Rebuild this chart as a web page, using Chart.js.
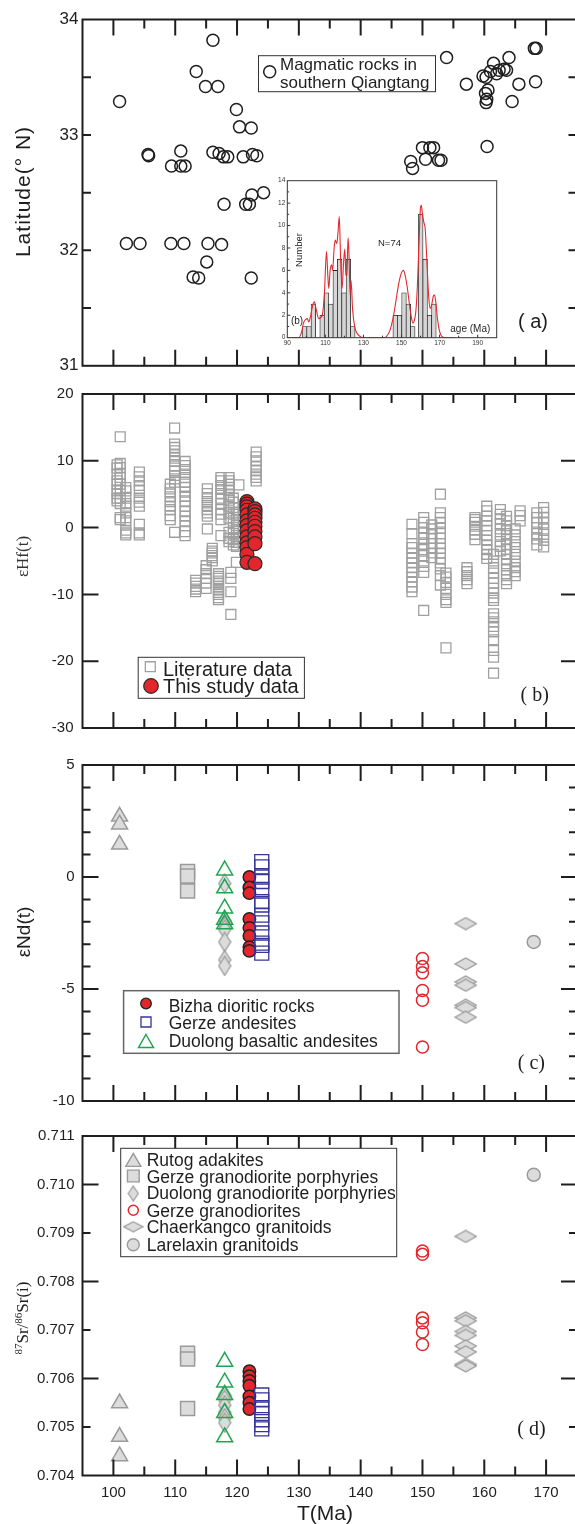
<!DOCTYPE html>
<html><head><meta charset="utf-8">
<script src="https://cdn.jsdelivr.net/npm/chart.js@4.4.1/dist/chart.umd.min.js"></script>
<style>
html,body{margin:0;padding:0;background:#fff;}
body{width:575px;height:1524px;overflow:hidden;position:relative;}
canvas{position:absolute;left:0;}
</style></head><body>
<canvas id="pa" width="600" height="380" style="top:0px"></canvas>
<canvas id="inset" width="245" height="185" style="top:170px;left:260px"></canvas>
<canvas id="pb" width="600" height="370" style="top:376px"></canvas>
<canvas id="pc" width="600" height="370" style="top:748px"></canvas>
<canvas id="pd" width="600" height="405" style="top:1119px"></canvas>
<script>
// ---------------- DATA ----------------
const ageTickLabels = [100,110,120,130,140,150,160,170];
const ageMajorTicks = [100,110,120,130,140,150,160,170];
const ageMinorTicks = [105,115,125,135,145,155,165];

// (a) latitude of magmatic rocks
const latAges = [101.0,116.1,113.4,114.9,116.9,119.9,120.4,122.3,105.6,105.7,110.9,109.4,110.9,111.6,116.1,117.1,117.8,118.5,121.0,122.5,123.2,124.3,122.4,117.9,121.4,122.0,102.1,104.3,109.3,111.4,115.3,117.5,115.1,112.9,113.8,122.3,
  153.9,157.1,159.8,160.3,161.5,162.4,163.2,163.6,164.0,165.6,168.3,168.1,168.4,160.6,160.2,160.3,160.4,164.5,161.0,162.0,160.45,150.0,151.2,151.8,148.1,148.4,150.5,152.6,153.0];
const latValues = [33.29,33.82,33.55,33.42,33.42,33.22,33.07,33.06,32.83,32.82,32.86,32.73,32.73,32.73,32.85,32.84,32.81,32.81,32.81,32.83,32.82,32.50,32.48,32.40,32.40,32.40,32.06,32.06,32.06,32.06,32.06,32.05,31.90,31.77,31.76,31.76,
  33.67,33.44,33.51,33.50,33.62,33.56,33.57,33.56,33.67,33.44,33.46,33.75,33.75,33.39,33.36,33.28,33.31,33.29,33.55,33.53,32.90,32.89,32.89,32.89,32.77,32.71,32.79,32.78,32.78];
const latTickLabels = [34,33,32,31];
const latTicks = [33.5,33,32.5,32,31.5];

// inset histogram of ages
const histAges = [99.2,101.4,103.7,108.3,110.6,112.9,115.2,117.5,119.8,122.1,124.4,146.7,149.0,151.3,153.6,155.9,160.1,162.4,164.7,167.0];
const histCounts = [1,1,3,2,4,3,6,7,4,7,1,2,2,4,3,1,11,7,2,3];
const kdeAges = [90,96,97.5,98.5,99.5,100.5,101.3,102.3,103.5,104.2,105.2,106.5,107.5,108.5,109.5,110.6,111.3,111.8,112.5,113.3,113.8,114.6,115.2,116.0,116.6,117.3,118.0,118.8,119.5,120.2,120.8,121.3,121.9,122.4,123.0,123.5,124.3,125.5,127,129,131,141,142.5,144,145.5,147,148.5,150,151,152,153,154,155,156,156.8,157.5,158.3,159.2,159.9,160.4,161,161.7,162.4,163,163.7,164.3,165,165.8,166.7,167.3,168,168.8,169.8,171,173,178];
const kdeValues = [0,0,0.5,1.3,1.6,1.7,1.4,2.0,3.0,3.2,2.5,1.7,1.8,2.1,4.0,7.7,5.5,4.4,6.0,6.5,6.0,8.0,8.7,8.4,9.3,10.8,7.0,4.4,6.5,7.9,5.6,5.5,8.9,7.5,3.8,5.1,2.5,0.9,0.3,0.05,0,0,0.2,0.7,1.7,3.2,4.8,5.8,6.0,5.5,4.5,3.2,2.0,1.3,1.6,2.3,4.5,8.5,11.5,11.8,11.0,10.3,9.8,8.0,5.5,3.6,2.6,2.9,3.7,3.8,3.2,1.8,0.7,0.15,0,0];
const histYLabels = [0,2,4,6,8,10,12,14];
const histXLabels = [90,110,130,150,170,190];

// (b) zircon eHf(t)
const hfLitAges = [100.6,101.1,102.0,104.2,109.2,109.9,111.6,113.3,115.0,115.2,116.0,117.0,117.4,118.7,119.0,119.4,119.9,120.3,123.1,
  148.3,150.2,151.5,152.9,153.8,157.2,158.5,160.4,161.5,162.6,163.6,165.0,165.8,168.5,169.6];
const hfLitValues = [
  [9.4,8.9,8.0,7.0,6.5,5.6,5.1,4.4,4.0],
  [13.6,9.6,9.0,8.0,7.5,6.5,5.6,4.4,3.6,1.5,1.2],
  [6.0,5.5,4.4,3.6,3.2,2.2,1.5,1.0,-0.4,-0.8,-1.1],
  [8.3,7.6,7.0,6.3,5.6,4.4,3.8,3.2,0.5,-0.8,-1.1],
  [6.5,5.8,5.2,4.6,3.9,3.2,2.7,1.8,1.2],
  [14.9,12.5,12.0,11.5,10.9,10.4,9.9,9.2,8.5,7.8,7.3,6.8,-0.7],
  [9.9,9.3,8.7,8.0,7.5,6.8,6.0,5.3,4.7,4.0,3.2,2.4,1.7,1.0,0.3,-0.6,-1.2],
  [-7.9,-8.3,-8.8,-9.2,-9.6],
  [-5.7,-6.3,-6.9,-7.6,-8.3,-9.1],
  [5.8,5.1,4.5,3.9,3.3,2.7,2.2,1.7,-0.2],
  [-3.1,-3.5,-3.8,-4.2,-4.5,-5.0],
  [-6.9,-7.3,-7.6,-8.0,-8.3,-8.8,-9.3,-9.7,-10.0,-10.5,-10.8],
  [7.5,7.0,6.3,5.7,5.1,4.4,3.6,2.7,2.0,1.2,-1.2],
  [7.5,7.0,6.5,6.0,5.6,4.9,4.1,3.2,2.2,1.4,-0.7,-1.6,-2.1],
  [-6.7,-7.6,-9.6,-13.0],
  [4.4,3.8,3.0,2.0,1.0,0.0,-0.9,-1.8,-2.6],
  [2.2,1.2,0.3,-0.6,-1.6,-2.2,-2.8,-5.2],
  [6.4],
  [11.3,10.6,10.0,9.2,8.6,8.0,7.5,7.0],
  [0.5,-0.9,-2.4,-3.0,-3.8,-4.6,-5.3,-6.0,-6.7,-7.4,-8.1,-8.9,-9.6],
  [1.5,0.8,0.0,-0.8,-1.6,-2.5,-3.3,-4.2,-5.0,-5.8,-6.7,-12.4],
  [0.4,-0.2,-0.9,-1.6,-2.4,-3.1,-3.8,-4.5],
  [5.0,2.2,1.5,0.8,-0.1,-0.9,-1.6,-2.4,-3.1,-3.8,-4.6,-5.3,-6.2,-7.2,-8.6],
  [-6.8,-7.4,-8.2,-9.1,-10.0,-10.8,-11.2,-18.0],
  [-6.0,-6.6,-7.2,-7.8,-8.4],
  [1.5,1.2,0.8,0.2,-0.4,-1.0,-1.8],
  [3.2,2.5,1.7,1.0,0.3,-0.4,-1.2,-1.9,-2.6,-3.3,-4.0,-4.6],
  [-4.0,-5.0,-6.0,-6.8,-7.6,-8.3,-9.1,-9.8,-10.5,-10.9,-12.9,-13.5,-14.1,-14.8,-15.6,-16.8,-18.4,-19.4,-21.8],
  [2.7,2.0,1.3,0.6,-0.2,-1.1,-2.1,-2.8,-3.5],
  [1.7,1.0,0.3,-0.3,-0.9,-1.7,-2.6,-3.3,-4.0,-4.7,-5.4,-6.3,-7.2,-7.8,-8.4],
  [-0.2,-1.1,-2.1,-3.0,-4.0,-5.0,-6.0,-6.6,-7.2],
  [2.5,1.8,1.0],
  [2.2,1.5,0.8,0.0,-0.9,-1.7,-2.6],
  [3.0,2.3,1.5,0.7,-0.2,-1.0,-1.9,-2.9]
];
const hfStudyAges = [121.6,122.9];
const hfStudyValues = [
  [3.9,3.5,3.1,2.6,1.9,1.0,0.3,-0.5,-1.4,-2.3,-3.0,-4.0,-5.2],
  [2.8,2.4,1.9,1.4,0.8,0.2,-0.6,-1.4,-2.4,-5.4]
];
const hfTickLabels = [20,10,0,-10,-20,-30];
const hfTicks = [10,0,-10,-20];

// (c),(d) whole-rock isotopes by suite
const suiteNames = ['Rutog adakites','Gerze granodiorite porphyries','Duolong granodiorite porphyries','Gerze granodiorites','Chaerkangco granitoids','Larelaxin granitoids','Bizha dioritic rocks','Gerze andesites','Duolong basaltic andesites'];
const suiteAges = [101,112,118,150,157,168,122,124,118];
const suiteNd = [
  [2.7,2.35,1.45],
  [0.25,0.05,-0.62],
  [-0.29,-1.95,-2.2,-2.35,-2.9,-3.7,-3.97],
  [-3.64,-4.0,-4.28,-5.07,-5.5,-7.59],
  [-2.08,-3.88,-4.68,-4.83,-5.72,-5.83,-6.26],
  [-2.9],
  [0.0,-0.47,-0.72,-1.87,-2.27,-2.63,-3.13,-3.3],
  [0.69,0.45,0.0,-0.2,-0.55,-1.1,-1.25,-1.7,-2.05,-2.5,-2.95,-3.05,-3.4],
  [0.3,-0.5,-1.4,-1.9,-2.1]
];
const suiteSr = [
  [0.70549,0.70480,0.70440],
  [0.70652,0.70640,0.70538],
  [0.70566,0.70556,0.70545,0.70530,0.70518,0.70509],
  [0.70863,0.70856,0.70725,0.70715,0.70696,0.70670],
  [0.70893,0.70725,0.70719,0.70697,0.70689,0.70667,0.70655,0.70629,0.70626],
  [0.71020],
  [0.70615,0.70605,0.70595,0.70585,0.70563,0.70550,0.70537],
  [0.70566,0.70556,0.70540,0.70528,0.70515,0.70505,0.70496],
  [0.70635,0.70592,0.70566,0.70529,0.70479]
];
const ndTickLabels = [5,0,-5,-10];
const ndMajorTicks = [0,-5];
const ndMinorTicks = [4,3,2,1,-1,-2,-3,-4,-6,-7,-8,-9];
const srTickLabels = [0.711,0.710,0.709,0.708,0.707,0.706,0.705,0.704];
const srMajorTicks = [0.710,0.708,0.706];
const srMinorTicks = [0.709,0.707,0.705];

// ---------------- STYLE ----------------
const INK = '#1e1e1e';
const SANS = '"Liberation Sans", Arial, Helvetica, sans-serif';
const SERIF = '"Liberation Serif", "Times New Roman", serif';
const GF = '#dcdcdc', GL = '#9a9a9a', RED = '#e3262b', BLUE = '#35359a', GREEN = '#1ea64e';
Chart.defaults.font.family = SANS;

function diamond(w, h, fill, stroke, lw) {
  const c = document.createElement('canvas');
  c.width = w + 2; c.height = h + 2;
  const g = c.getContext('2d');
  g.beginPath();
  g.moveTo(c.width / 2, 1); g.lineTo(w + 1, c.height / 2); g.lineTo(c.width / 2, h + 1); g.lineTo(1, c.height / 2);
  g.closePath(); g.fillStyle = fill; g.fill(); g.lineWidth = lw; g.strokeStyle = stroke; g.stroke();
  return c;
}
const narrowDia = diamond(12, 19, GF, GL, 1.3);
const wideDia = diamond(21, 12, GF, GL, 1.3);
const narrowDiaL = diamond(10, 15, GF, GL, 1.2);
const wideDiaL = diamond(19, 10, GF, GL, 1.2);

// style per suite (same order as suiteNames)
const suiteStyles = [
  {pointStyle:'triangle', pointRadius:9.2, pointBackgroundColor:GF, pointBorderColor:GL, pointBorderWidth:1.5},
  {pointStyle:'rect', pointRadius:9.9, pointBackgroundColor:GF, pointBorderColor:GL, pointBorderWidth:1.5},
  {pointStyle:narrowDia, pointRadius:8},
  {pointStyle:'circle', pointRadius:6, pointBackgroundColor:'rgba(255,255,255,0)', pointBorderColor:RED, pointBorderWidth:1.5},
  {pointStyle:wideDia, pointRadius:8},
  {pointStyle:'circle', pointRadius:6.5, pointBackgroundColor:GF, pointBorderColor:GL, pointBorderWidth:1.5},
  {pointStyle:'circle', pointRadius:6.2, pointBackgroundColor:RED, pointBorderColor:'#222', pointBorderWidth:1.5},
  {pointStyle:'rect', pointRadius:9.9, pointBackgroundColor:'rgba(255,255,255,0)', pointBorderColor:BLUE, pointBorderWidth:1.3},
  {pointStyle:'triangle', pointRadius:9.2, pointBackgroundColor:'rgba(255,255,255,0)', pointBorderColor:GREEN, pointBorderWidth:1.5}
];
// drawing order (first = on top)
const suiteDrawOrder = [5,4,3,8,2,1,0,7,6];

function suiteSets(valuesBySuite) {
  return suiteDrawOrder.map(i => Object.assign({
    label: suiteNames[i],
    data: valuesBySuite[i].map(v => ({x: suiteAges[i], y: v}))
  }, suiteStyles[i]));
}

function marker(ctx, style, x, y, r, fill, stroke, lw) {
  ctx.save();
  if (style instanceof HTMLCanvasElement) { ctx.drawImage(style, x - style.width / 2, y - style.height / 2); ctx.restore(); return; }
  ctx.beginPath();
  if (style === 'circle') ctx.arc(x, y, r, 0, Math.PI * 2);
  else if (style === 'rect') { const s = r * Math.SQRT1_2; ctx.rect(x - s, y - s, 2 * s, 2 * s); }
  else if (style === 'triangle') { ctx.moveTo(x, y - r); ctx.lineTo(x + 0.866 * r, y + 0.5 * r); ctx.lineTo(x - 0.866 * r, y + 0.5 * r); ctx.closePath(); }
  if (fill) { ctx.fillStyle = fill; ctx.fill(); }
  if (stroke) { ctx.strokeStyle = stroke; ctx.lineWidth = lw; ctx.stroke(); }
  ctx.restore();
}
function text(ctx, s, x, y, font, opts) {
  opts = opts || {};
  ctx.save();
  ctx.font = font; ctx.fillStyle = opts.color || INK;
  ctx.textAlign = opts.align || 'left'; ctx.textBaseline = opts.baseline || 'alphabetic';
  if (opts.spacing) ctx.letterSpacing = opts.spacing;
  ctx.translate(x, y);
  if (opts.rot) ctx.rotate(opts.rot);
  ctx.fillText(s, 0, 0);
  ctx.restore();
}
function box(ctx, x, y, w, h, lw, col) {
  ctx.save(); ctx.fillStyle = '#fff'; ctx.fillRect(x, y, w, h);
  ctx.strokeStyle = col; ctx.lineWidth = lw; ctx.strokeRect(x, y, w, h); ctx.restore();
}

function panelPlugin(cfg) {
  return {
    id: 'panel',
    afterDatasetsDraw(chart) {
      const ctx = chart.ctx, a = chart.chartArea, xs = chart.scales.x, ys = chart.scales.y;
      ctx.save();
      ctx.strokeStyle = INK; ctx.lineWidth = 2;
      ctx.strokeRect(a.left, a.top, a.right - a.left, a.bottom - a.top);
      ctx.beginPath();
      const xt = (vals, len) => vals.forEach(v => { const p = xs.getPixelForValue(v);
        ctx.moveTo(p, a.top); ctx.lineTo(p, a.top + len); ctx.moveTo(p, a.bottom); ctx.lineTo(p, a.bottom - len); });
      xt(ageMajorTicks, 16); xt(ageMinorTicks, 9);
      cfg.yTicks.forEach(t => t.values.forEach(v => { const p = ys.getPixelForValue(v);
        ctx.moveTo(a.left, p); ctx.lineTo(a.left + t.len, p); ctx.moveTo(a.right, p); ctx.lineTo(a.right - t.len, p); }));
      ctx.stroke();
      ctx.translate(0, -cfg.top);
      cfg.extra(ctx);
      ctx.restore();
    }
  };
}

function makePanel(id, cfg) {
  const el = document.getElementById(id);
  cfg.top = parseFloat(el.style.top);
  return new Chart(el, {
    type: 'scatter',
    data: {datasets: cfg.datasets},
    options: {
      responsive: false, animation: false, devicePixelRatio: 1,
      layout: {padding: {top: cfg.padTop, right: 23, bottom: cfg.padBottom, left: 0}},
      plugins: {legend: {display: false}, tooltip: {enabled: false}},
      events: [],
      scales: {
        x: {type: 'linear', min: 95, max: 175, display: !!cfg.showX,
          afterFit: s => { s.height = cfg.xHeight || 0; },
          afterBuildTicks: s => { s.ticks = ageTickLabels.map(v => ({value: v})); },
          grid: {display: false, drawTicks: false}, border: {display: false},
          ticks: {font: {family: SANS, size: 15}, color: INK, padding: 8, autoSkip: false, maxRotation: 0}},
        y: {type: 'linear', min: cfg.yMin, max: cfg.yMax,
          afterFit: s => { s.width = 82.5; },
          afterBuildTicks: s => { s.ticks = cfg.yLabels.map(v => ({value: v})); },
          grid: {display: false, drawTicks: false}, border: {display: false},
          ticks: {font: {family: SANS, size: cfg.yFont}, color: INK, padding: cfg.yPad, autoSkip: false,
            callback: cfg.yFmt || (v => String(v))}}
      }
    },
    plugins: [panelPlugin(cfg)]
  });
}

// ---------- panel (a) ----------
makePanel('pa', {
  padTop: 19.5, padBottom: 13.5, yMin: 31, yMax: 34, yLabels: latTickLabels, yFont: 17, yPad: 4,
  yTicks: [{values: latTicks, len: 8.5}],
  datasets: [{label: 'Magmatic rocks in southern Qiangtang', data: latAges.map((a, i) => ({x: a, y: latValues[i]})),
    pointStyle: 'circle', pointRadius: 6, pointBorderWidth: 1.5, pointBorderColor: INK, pointBackgroundColor: 'rgba(255,255,255,0)'}],
  extra(ctx) {
    box(ctx, 258.5, 55.7, 177, 36, 1, '#333');
    marker(ctx, 'circle', 269.7, 71.7, 6, null, INK, 1.5);
    text(ctx, 'Magmatic rocks in', 280, 70, '17px ' + SANS);
    text(ctx, 'southern Qiangtang', 280, 88, '17px ' + SANS);
    text(ctx, '( a)', 518, 327.5, '20px ' + SANS);
    text(ctx, 'Latitude(° N)', 24, 191.5, '21px ' + SANS, {align: 'center', baseline: 'middle', rot: -Math.PI / 2, spacing: '1px'});
  }
});

// ---------- inset histogram ----------
new Chart(document.getElementById('inset'), {
  type: 'bar',
  data: {datasets: [
    {type: 'line', label: 'density', data: kdeAges.map((a, i) => ({x: a, y: kdeValues[i]})),
      borderColor: '#e8262d', borderWidth: 1.1, pointRadius: 0, cubicInterpolationMode: 'monotone', fill: false},
    {type: 'bar', label: 'Number', data: histAges.map((a, i) => ({x: a, y: histCounts[i]})),
      backgroundColor: '#d6d6d6', borderColor: '#222', borderWidth: 0.8, barThickness: 4.6, grouped: false}
  ]},
  options: {
    responsive: false, animation: false, devicePixelRatio: 1, events: [],
    layout: {padding: {top: 10.7, right: 8.3, bottom: 0, left: 0}},
    plugins: {legend: {display: false}, tooltip: {enabled: false}},
    scales: {
      x: {type: 'linear', min: 90, max: 200, offset: false,
        afterFit: s => { s.height = 17.3; },
        afterBuildTicks: s => { s.ticks = histXLabels.map(v => ({value: v})); },
        grid: {display: false, drawTicks: false}, border: {display: false},
        ticks: {font: {family: SANS, size: 6.5}, color: '#333', padding: 2, autoSkip: false, maxRotation: 0}},
      y: {type: 'linear', min: 0, max: 14,
        afterFit: s => { s.width = 27.3; },
        afterBuildTicks: s => { s.ticks = histYLabels.map(v => ({value: v})); },
        grid: {display: false, drawTicks: false}, border: {display: false},
        ticks: {font: {family: SANS, size: 6.5}, color: '#333', padding: 2, autoSkip: false}}
    }
  },
  plugins: [{
    id: 'insetFrame',
    beforeDatasetsDraw(chart) { const a = chart.chartArea; chart.ctx.save(); chart.ctx.fillStyle = '#fff'; chart.ctx.fillRect(a.left, a.top, a.right - a.left, a.bottom - a.top); chart.ctx.restore(); },
    afterDatasetsDraw(chart) {
      const ctx = chart.ctx, a = chart.chartArea, xs = chart.scales.x, ys = chart.scales.y;
      ctx.save();
      ctx.strokeStyle = '#333'; ctx.lineWidth = 1;
      ctx.strokeRect(a.left, a.top, a.right - a.left, a.bottom - a.top);
      ctx.beginPath();
      [1,2,3,4,5,6,7,8,9,10,11,12,13].forEach(v => { const p = ys.getPixelForValue(v); ctx.moveTo(a.left, p); ctx.lineTo(a.left + (v % 2 ? 1.8 : 3), p); });
      [100,110,120,130,140,150,160,170,180,190].forEach(v => { const p = xs.getPixelForValue(v); ctx.moveTo(p, a.bottom); ctx.lineTo(p, a.bottom - (v % 20 === 10 ? 3 : 2)); });
      ctx.stroke();
      ctx.translate(-260, -170);
      text(ctx, 'Number', 299.5, 250, '9.5px ' + SANS, {align: 'center', baseline: 'middle', rot: -Math.PI / 2});
      text(ctx, 'N=74', 389.5, 243, '9.5px ' + SANS, {align: 'center', baseline: 'middle'});
      text(ctx, '(b)', 297, 321.7, '10px ' + SANS, {align: 'center', baseline: 'middle'});
      text(ctx, 'age (Ma)', 470.3, 329.3, '10px ' + SANS, {align: 'center', baseline: 'middle'});
      ctx.restore();
    }
  }]
});

// ---------- panel (b) ----------
makePanel('pb', {
  padTop: 10.5, padBottom: 12.5, yMin: -30, yMax: 20, yLabels: hfTickLabels, yFont: 15, yPad: 9,
  yTicks: [{values: hfTicks, len: 16}],
  datasets: [
    {label: 'This study data', data: hfStudyAges.flatMap((a, i) => hfStudyValues[i].map(v => ({x: a, y: v}))),
      pointStyle: 'circle', pointRadius: 7, pointBorderWidth: 1.2, pointBorderColor: '#2a2a2a', pointBackgroundColor: RED},
    {label: 'Literature data', data: hfLitAges.flatMap((a, i) => hfLitValues[i].map(v => ({x: a, y: v}))),
      pointStyle: 'rect', pointRadius: 7, pointBorderWidth: 1.3, pointBorderColor: '#a0a0a0', pointBackgroundColor: 'rgba(255,255,255,0)'}
  ],
  extra(ctx) {
    box(ctx, 138.2, 657.3, 166.2, 41, 1, '#333');
    marker(ctx, 'rect', 150.3, 666.7, 7, null, '#a0a0a0', 1.3);
    marker(ctx, 'circle', 151, 686, 7.3, RED, '#2a2a2a', 1.2);
    text(ctx, 'Literature data', 163, 676, '20px ' + SANS);
    text(ctx, 'This study data', 163, 693, '20px ' + SANS);
    text(ctx, '( b)', 520.5, 700.5, '20px ' + SERIF);
    text(ctx, 'εHf(t)', 24, 556.5, '17px ' + SERIF, {align: 'center', baseline: 'middle', rot: -Math.PI / 2, color: '#333'});
  }
});

// ---------- panel (c) ----------
makePanel('pc', {
  padTop: 10, padBottom: 12, yMin: -10, yMax: 5, yLabels: ndTickLabels, yFont: 15, yPad: 8,
  yTicks: [{values: ndMajorTicks, len: 16}, {values: ndMinorTicks, len: 8}],
  datasets: suiteSets(suiteNd),
  extra(ctx) {
    box(ctx, 123.6, 990.7, 275.4, 62.6, 1.5, '#666');
    marker(ctx, 'circle', 146, 1003.5, 5.3, RED, '#222', 1.3);
    marker(ctx, 'rect', 146, 1022, 7.1, null, BLUE, 1.3);
    marker(ctx, 'triangle', 146, 1043.2, 8.7, null, GREEN, 1.4);
    text(ctx, 'Bizha dioritic rocks', 168.7, 1011.5, '17.5px ' + SANS);
    text(ctx, 'Gerze andesites', 168.7, 1028.5, '17.5px ' + SANS);
    text(ctx, 'Duolong basaltic andesites', 168.7, 1046.5, '17.5px ' + SANS);
    text(ctx, '( c)', 517.8, 1069, '20px ' + SERIF);
    text(ctx, 'εNd(t)', 24.5, 932, '19px ' + SANS, {align: 'center', baseline: 'middle', rot: -Math.PI / 2});
  }
});

// ---------- panel (d) ----------
makePanel('pd', {
  padTop: 10, padBottom: 0, showX: true, xHeight: 48.5, yMin: 0.704, yMax: 0.711, yLabels: srTickLabels, yFont: 15, yPad: 8,
  yFmt: v => v.toFixed(3),
  yTicks: [{values: srMajorTicks, len: 16}, {values: srMinorTicks, len: 8}],
  datasets: suiteSets(suiteSr),
  extra(ctx) {
    box(ctx, 120.7, 1148.3, 276, 108.4, 1, '#333');
    const lx = 133.3, tx = 146.7, f = '17.5px ' + SANS;
    marker(ctx, 'triangle', lx, 1162, 8.7, GF, GL, 1.4);
    marker(ctx, 'rect', lx, 1176, 8.3, GF, GL, 1.4);
    marker(ctx, narrowDiaL, lx, 1193.5);
    marker(ctx, 'circle', lx, 1210.3, 5, null, RED, 1.5);
    marker(ctx, wideDiaL, lx, 1226.7);
    marker(ctx, 'circle', lx, 1244.7, 6, GF, GL, 1.4);
    text(ctx, 'Rutog adakites', tx, 1165.9, f);
    text(ctx, 'Gerze granodiorite porphyries', tx, 1182.5, f);
    text(ctx, 'Duolong granodiorite porphyries', tx, 1199.2, f);
    text(ctx, 'Gerze granodiorites', tx, 1217, f);
    text(ctx, 'Chaerkangco granitoids', tx, 1233.2, f);
    text(ctx, 'Larelaxin granitoids', tx, 1250.8, f);
    text(ctx, '( d)', 517.3, 1435, '20px ' + SERIF);
    text(ctx, 'T(Ma)', 325, 1514, '21px ' + SANS, {align: 'center', baseline: 'middle'});
    // 87Sr/86Sr(i) axis title with superscripts
    ctx.save();
    ctx.translate(22, 1318); ctx.rotate(-Math.PI / 2);
    const parts = [['87', 11, -6], ['Sr/', 17, 0], ['86', 11, -6], ['Sr(i)', 17, 0]];
    let total = 0;
    parts.forEach(p => { ctx.font = p[1] + 'px ' + SERIF; total += ctx.measureText(p[0]).width; });
    let x = -total / 2;
    ctx.fillStyle = INK; ctx.textBaseline = 'alphabetic'; ctx.textAlign = 'left';
    parts.forEach(p => { ctx.font = p[1] + 'px ' + SERIF; ctx.fillText(p[0], x, 6 + p[2]); x += ctx.measureText(p[0]).width; });
    ctx.restore();
  }
});
</script></body></html>
